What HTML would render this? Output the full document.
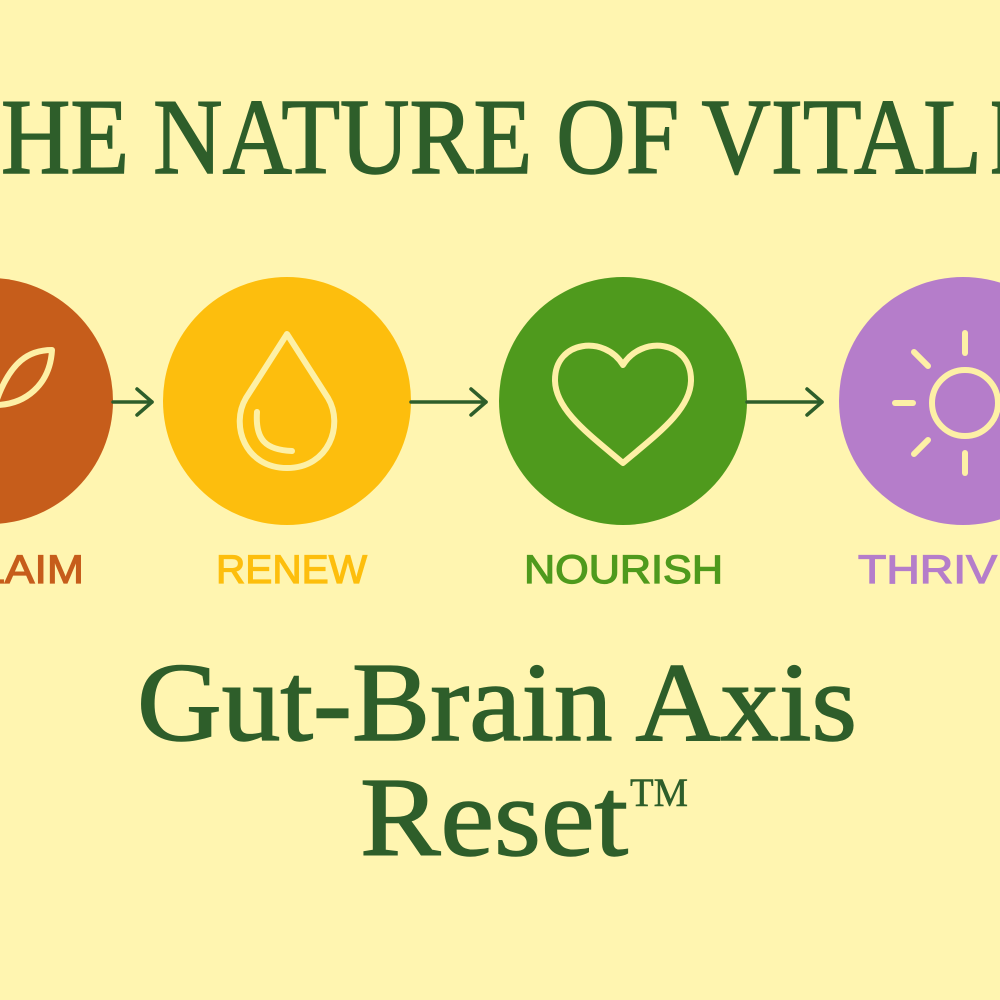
<!DOCTYPE html>
<html><head><meta charset="utf-8"><style>
html,body{margin:0;padding:0;background:#fff5b0;width:1000px;height:1000px;overflow:hidden}
</style></head><body>
<svg width="1000" height="1000" viewBox="0 0 1000 1000" xmlns="http://www.w3.org/2000/svg">
<rect width="1000" height="1000" fill="#fff5b0"/>
<g font-family="Liberation Serif, serif" font-size="108" fill="#2e5e2a" stroke="#2e5e2a" stroke-width="1.5">
<text x="-62" y="173" textLength="58" lengthAdjust="spacingAndGlyphs">T</text>
<text x="1" y="173" textLength="981" lengthAdjust="spacingAndGlyphs">HE NATURE OF VITAL</text>
<text x="990" y="173" textLength="110" lengthAdjust="spacingAndGlyphs">ITY</text>
</g>

<circle cx="-10" cy="401" r="123" fill="#c65d1b"/>
<circle cx="287" cy="401" r="124" fill="#fdbe0d"/>
<circle cx="623" cy="401" r="124" fill="#4f9a1d"/>
<circle cx="963" cy="401" r="124" fill="#b57dca"/>

<g stroke="#2e5e2a" stroke-width="3.5" fill="none" stroke-linecap="round" stroke-linejoin="round">
<line x1="113" y1="402" x2="152" y2="402"/><polyline points="137,389 152,402 137,415"/>
<line x1="411" y1="402" x2="486" y2="402"/><polyline points="471,389 486,402 471,415"/>
<line x1="747" y1="402" x2="822" y2="402"/><polyline points="807,389 822,402 807,415"/>
</g>

<g stroke="#fdf0a6" stroke-width="6" fill="none" stroke-linecap="round" stroke-linejoin="round">
<path d="M-5,405 C10,360 30,350 52,350 C50,385 25,405 -5,405 Z"/>
<path d="M287,334 L246,398 C230,425 245,468 287,468 C329,468 344,425 328,398 Z"/>
<path d="M257,412 C255,440 266,450 292,451"/>
<path d="M623,365 C605,335 555,340 555,380 C555,410 590,435 623,463 C656,435 691,410 691,380 C691,340 641,335 623,365 Z"/>
<circle cx="965" cy="403" r="33"/>
<line x1="965" y1="333" x2="965" y2="353"/>
<line x1="965" y1="453" x2="965" y2="473"/>
<line x1="895" y1="403" x2="913" y2="403"/>
<line x1="914" y1="352" x2="928" y2="366"/>
<line x1="914" y1="454" x2="928" y2="440"/>
</g>

<g font-family="Liberation Sans, sans-serif" font-size="40" stroke-width="1.2">
<text x="-20" y="583" fill="#c65d1b" stroke="#c65d1b" textLength="104" lengthAdjust="spacingAndGlyphs">LAIM</text>
<text x="216" y="583" fill="#fdbe0d" stroke="#fdbe0d" textLength="151" lengthAdjust="spacingAndGlyphs">RENEW</text>
<text x="524" y="583" fill="#4f9a1d" stroke="#4f9a1d" textLength="199" lengthAdjust="spacingAndGlyphs">NOURISH</text>
<text x="858" y="583" fill="#b57dca" stroke="#b57dca" textLength="170" lengthAdjust="spacingAndGlyphs">THRIVE</text>
</g>

<g font-family="Liberation Serif, serif" fill="#2e5e2a" stroke="#2e5e2a" stroke-width="1.5">
<text x="137" y="740" font-size="112" textLength="720" lengthAdjust="spacingAndGlyphs">Gut-Brain Axis</text>
<text x="360" y="855" font-size="112" textLength="268" lengthAdjust="spacingAndGlyphs">Reset</text>
<text x="630" y="806" font-size="40" stroke-width="0.5" textLength="58" lengthAdjust="spacingAndGlyphs">TM</text>
</g>
</svg>
</body></html>
